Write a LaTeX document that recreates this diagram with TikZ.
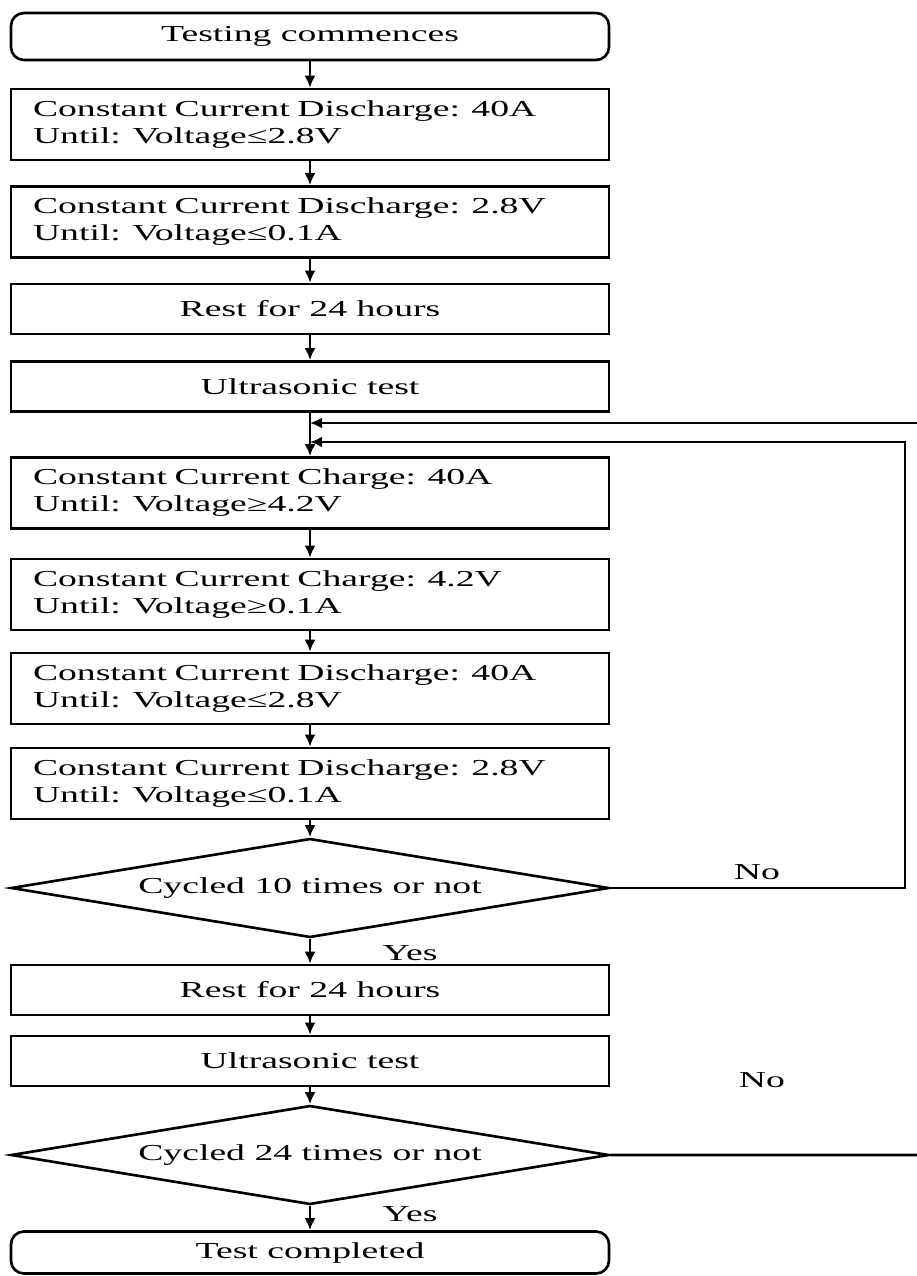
\documentclass[tikz,border=0pt]{standalone}
\usepackage{fontspec}
\setmainfont{Liberation Serif}[FakeStretch=1.65]
\usepackage{tikz}
\usetikzlibrary{shapes.geometric}
\usetikzlibrary{positioning}
\usetikzlibrary{arrows.meta}
\tikzset{every picture/.style={line width=1.5pt}}
\tikzset{
  termbox/.style={draw, rounded corners=1.6ex, minimum width=11.96cm, minimum height=0.94cm},
  stepbox/.style={draw, minimum width=11.96cm, minimum height=1.0cm},
  twobox/.style={draw, text width=11.08cm, inner xsep=0.44cm, align=left, minimum height=1.42cm},
  decision/.style={draw, diamond, aspect=6, minimum width=11.96cm, minimum height=1.98cm, inner sep=0pt},
  flow/.style={-{Latex[length=0.24cm,width=0.22cm]}}
}

\begin{document}
\begin{tikzpicture}[font=\fontsize{13}{15.4}\selectfont]
\useasboundingbox (0,0) rectangle (18.34,-25.52);
\node (start) [termbox] at (6.2,-0.73) {Testing commences};
\node (dis1) [twobox, below of = start, node distance = 1.76cm] {Constant Current Discharge: 40A\\Until: Voltage≤2.8V};
\node (cv1) [twobox, below of = dis1, node distance = 1.95cm] {Constant Current Discharge: 2.8V\\Until: Voltage≤0.1A};
\node (rest1) [stepbox, below of = cv1, node distance = 1.74cm] {Rest for 24 hours};
\node (ultra1) [stepbox, below of = rest1, node distance = 1.55cm] {Ultrasonic test};
\node (chg1) [twobox, below of = ultra1, node distance = 2.13cm] {Constant Current Charge: 40A\\Until: Voltage≥4.2V};
\node (cv2) [twobox, below of = chg1, node distance = 2.03cm] {Constant Current Charge: 4.2V\\Until: Voltage≥0.1A};
\node (dis2) [twobox, below of = cv2, node distance = 1.88cm] {Constant Current Discharge: 40A\\Until: Voltage≤2.8V};
\node (cv3) [twobox, below of = dis2, node distance = 1.90cm] {Constant Current Discharge: 2.8V\\Until: Voltage≤0.1A};
\node (cyc10) [decision, below of = cv3, node distance = 2.09cm] {Cycled 10 times or not};
\node (rest2) [stepbox, below of = cyc10, node distance = 2.04cm] {Rest for 24 hours};
\node (ultra2) [stepbox, below of = rest2, node distance = 1.42cm] {Ultrasonic test};
\node (cyc24) [decision, below of = ultra2, node distance = 1.88cm] {Cycled 24 times or not};
\node (done) [termbox, below of = cyc24, node distance = 1.95cm, minimum height=0.84cm] {Test completed};
% labels of the decisions
\node (yes10) at (8.2,-19.06) {Yes};
\node (yes24) at (8.2,-24.28) {Yes};
\node (no10) at (15.14,-17.44) {No};
\node (no24) at (15.24,-21.6) {No};
% loop points
\coordinate (join1) at (6.2,-8.46);
\coordinate (join2) at (6.2,-8.84);
\coordinate (edge1) at (18.34,-8.46);
\coordinate (turn10) at (18.1,-8.84);
\coordinate (edge24) at (18.34,-23.1);
\draw[flow] (start) -- (dis1);
\draw[flow] (dis1) -- (cv1);
\draw[flow] (cv1) -- (rest1);
\draw[flow] (rest1) -- (ultra1);
\draw[flow] (ultra1) -- (chg1);
\draw[flow] (chg1) -- (cv2);
\draw[flow] (cv2) -- (dis2);
\draw[flow] (dis2) -- (cv3);
\draw[flow] (cv3) -- (cyc10);
\draw[flow] (cyc10) -- (rest2);
\draw[flow] (rest2) -- (ultra2);
\draw[flow] (ultra2) -- (cyc24);
\draw[flow] (cyc24) -- (done);
\draw[flow] (edge1) -- (join1);
\draw[flow] (cyc10.east) -| (turn10) -- (join2);
\draw (cyc24.east) -- (edge24);
\end{tikzpicture}
\end{document}
